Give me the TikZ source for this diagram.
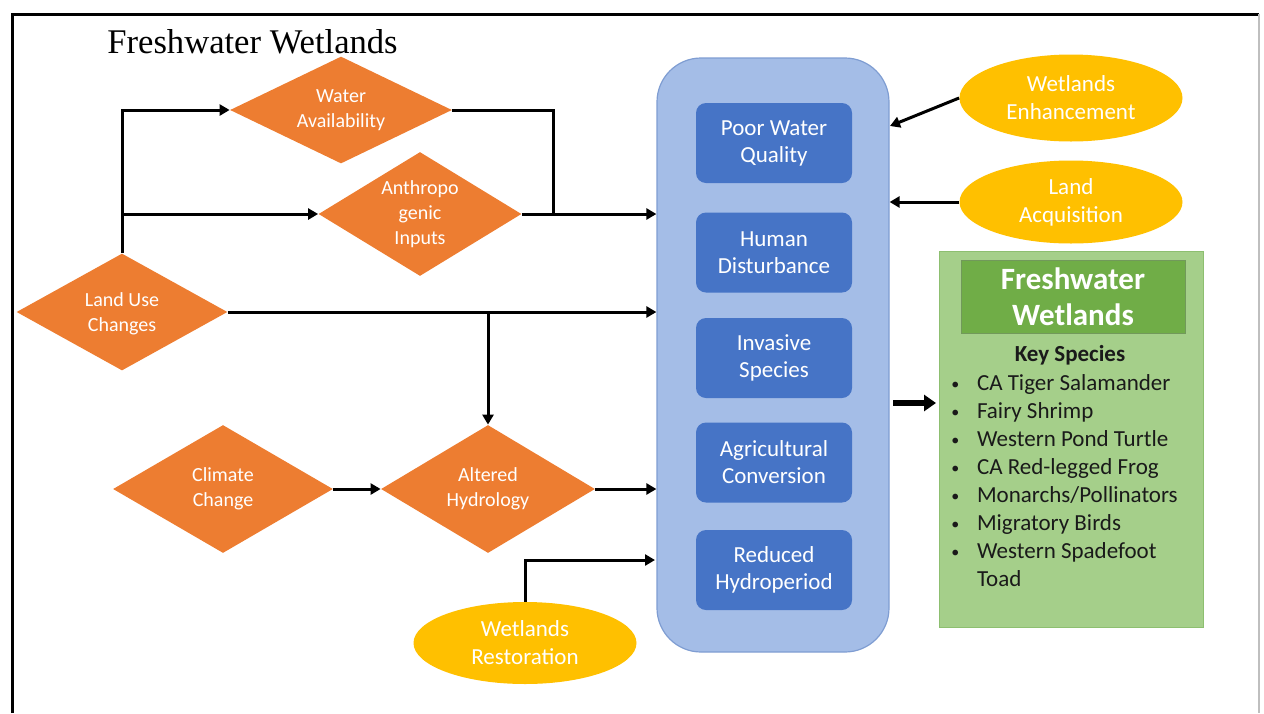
\documentclass[tikz,border=0pt]{standalone}
\usepackage{fontspec}
\setmainfont{Carlito}
\newfontfamily\titlefont{Liberation Serif}
\usetikzlibrary{shapes.geometric,arrows.meta,calc}
\definecolor{orng}{HTML}{ED7D31}
\definecolor{bluein}{HTML}{4674C6}
\definecolor{blueout}{HTML}{A4BDE7}
\definecolor{blueedge}{HTML}{7F9DD2}
\definecolor{yell}{HTML}{FFC000}
\definecolor{grn}{HTML}{A5CF8A}
\definecolor{grnhead}{HTML}{70AD47}
\definecolor{grnedge}{HTML}{8DBF70}
\definecolor{ink}{HTML}{1A1A1A}
\begin{document}
\begin{tikzpicture}[x=0.5pt,y=-0.5pt,
  dia/.style={diamond, fill=orng, draw=none, inner sep=0pt},
  dialabel/.style={text=white, align=center, inner sep=0pt,
    font=\fontsize{10}{12.5}\selectfont},
  ell/.style={ellipse, fill=yell, draw=none, text=white, inner sep=0pt, align=center,
    minimum width=111.5pt, font=\fontsize{11.5}{14}\selectfont},
  threat/.style={rectangle, rounded corners=5pt, fill=bluein, draw=none, text=white,
    minimum width=78pt, minimum height=40pt, inner sep=0pt, align=center,
    font=\fontsize{11.5}{13.5}\selectfont},
  wire/.style={line width=1.5pt, draw=black},
  conn/.style={wire, -{Triangle[length=5pt,width=5.5pt]}},
  bigconn/.style={line width=3pt, -{Triangle[length=6pt,width=8pt]}}
]
\useasboundingbox (0,0) rectangle (1264,713);
% frame
\draw[line width=1.5pt] (12,713) -- (12,14) -- (1259,14);
\draw[line width=0.6pt, black!25] (1259,14) -- (1259,713);

% title
\node[anchor=base west, inner sep=0pt, font=\titlefont\fontsize{17.3}{20}\selectfont] (title) at (107,53) {Freshwater Wetlands};

% big blue container
\node[rectangle, rounded corners=22pt, fill=blueout, draw=blueedge, line width=0.6pt,
  minimum width=116pt, minimum height=297pt, inner sep=0pt] (blue) at (773,355) {};

\node[threat] (t1) at (774,143) {Poor Water\\Quality};
\node[threat] (t2) at (774,252.5) {Human\\Disturbance};
\node[threat] (t3) at (774,358) {Invasive\\Species};
\node[threat] (t4) at (774,462.5) {Agricultural\\Conversion};
\node[threat] (t5) at (774,570) {Reduced\\Hydroperiod};

% diamonds
\node[dia, minimum width=111pt, minimum height=53.5pt,
  label={[dialabel]center:Water\\Availability}] (wa) at (341,110) {};
\node[dia, minimum width=101.5pt, minimum height=62pt,
  label={[dialabel]center:Anthropo\\genic\\Inputs}] (ai) at (420,214) {};
\node[dia, minimum width=105.5pt, minimum height=58.5pt,
  label={[dialabel, yshift=-1pt]center:Land Use\\Changes}] (lu) at (122,312) {};
\node[dia, minimum width=110pt, minimum height=64pt,
  label={[dialabel]center:Climate\\Change}] (cc) at (223,489) {};
\node[dia, minimum width=107pt, minimum height=64pt,
  label={[dialabel]center:Altered\\Hydrology}] (ah) at (488,489) {};

% ellipses
\node[ell, minimum height=43.5pt] (we) at (1071,98) {Wetlands\\Enhancement};
\node[ell, minimum height=41.5pt] (la) at (1071,202) {Land\\Acquisition};
\node[ell, minimum height=41pt] (wr) at (525,643) {Wetlands\\Restoration};

% green species box
\node[rectangle, fill=grn, draw=grnedge, line width=0.5pt, minimum width=132pt, minimum height=188pt, inner sep=0pt] (green) at (1071,439) {};
\node[rectangle, fill=grnhead, draw=grnedge!80!black, line width=0.4pt, minimum width=112pt, minimum height=36.5pt,
  inner sep=0pt, text=white, align=center, font=\bfseries\fontsize{15.5}{18}\selectfont] (head) at (1073,296.5) {Freshwater\\Wetlands};
\node[text=ink, font=\bfseries\fontsize{11.5}{14}\selectfont, inner sep=0pt] (key) at (1070,355) {Key Species};
\newcommand{\spbul}{\makebox[12.8pt][l]{\raisebox{0.6pt}{\fontsize{8}{8}\selectfont\textbullet}}}
\node[anchor=north west, inner sep=0pt, align=left, text=ink, font=\fontsize{11.5}{14}\selectfont] (list) at (951,374) {%
\spbul CA Tiger Salamander\\
\spbul Fairy Shrimp\\
\spbul Western Pond Turtle\\
\spbul CA Red-legged Frog\\
\spbul Monarchs/Pollinators\\
\spbul Migratory Birds\\
\spbul Western Spadefoot\\
\makebox[12.8pt][l]{}Toad};

% junction coordinates
\coordinate (j1) at (553,214);
\coordinate (rin) at (655,560);
\coordinate (wein) at (890,126);
\coordinate (gout) at (893,403);
\coordinate (gin) at (936,403);

% connectors
\draw[conn] (lu.north) |- (wa.west);
\draw[conn] (lu.north |- ai.west) -- (ai.west);
\draw[wire] (wa.east) -| (j1);
\draw[conn] (ai.east) -- (ai.east -| blue.west);
\draw[conn] (lu.east) -- (lu.east -| blue.west);
\draw[conn] (lu.east -| ah.north) -- (ah.north);
\draw[conn] (cc.east) -- (ah.west);
\draw[conn] (ah.east) -- (ah.east -| blue.west);
\draw[conn] (wr.north) |- (rin);
\draw[conn] (we.west) -- (wein);
\draw[conn] (la.west) -- (la.west -| blue.east);
\draw[bigconn] (gout) -- (gin);
\end{tikzpicture}
\end{document}
